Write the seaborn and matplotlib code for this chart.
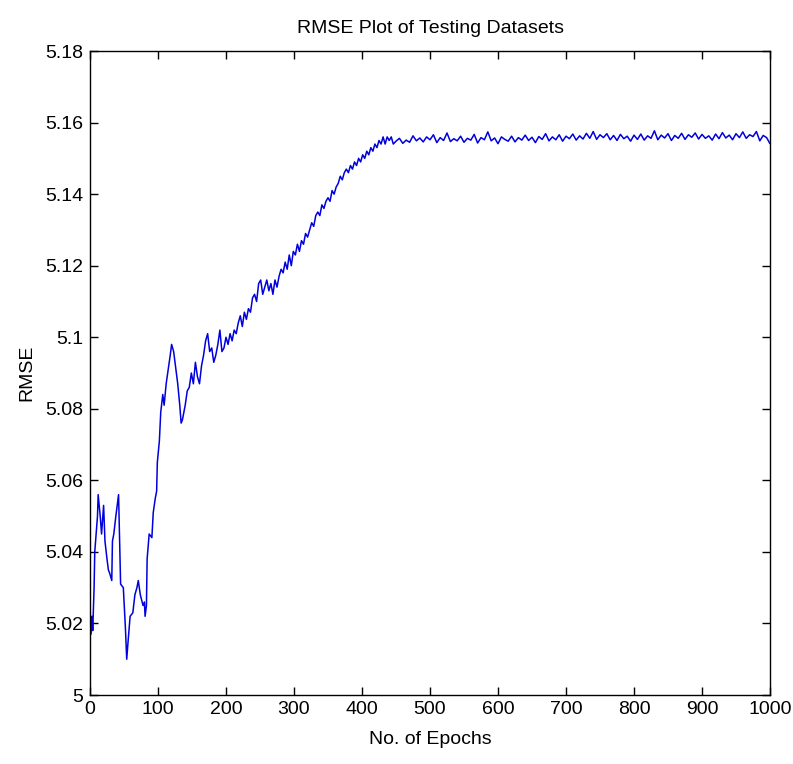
import matplotlib
matplotlib.use('Agg')
import matplotlib.pyplot as plt
from matplotlib.ticker import FuncFormatter
import seaborn as sns
import pandas as pd

# значения
epochs_start = [0, 1.5, 3, 4, 6, 7, 9, 11, 12, 15, 17, 20, 22, 25, 27, 29, 32, 33, 35, 38,
                42, 43, 45, 49, 52, 54, 56, 59, 63, 66, 69, 71, 74, 78, 80, 81, 83, 84, 87, 91,
                93, 96, 98, 99, 102, 104, 107, 109, 112, 115, 118, 120, 123, 125, 129, 132, 134, 136, 140, 143]
rmse_start = [5.025, 5.017, 5.022, 5.018, 5.030, 5.040, 5.045, 5.050, 5.056, 5.050, 5.045, 5.053, 5.043, 5.038,
              5.035, 5.034, 5.032, 5.043, 5.045, 5.050, 5.056, 5.048, 5.031, 5.030, 5.019, 5.010, 5.015, 5.022,
              5.023, 5.028, 5.030, 5.032, 5.028, 5.025, 5.026, 5.022, 5.025, 5.038, 5.045, 5.044, 5.051, 5.055,
              5.057, 5.065, 5.071, 5.079, 5.084, 5.081, 5.087, 5.091, 5.095, 5.098, 5.096, 5.093, 5.087, 5.081,
              5.076, 5.077, 5.081, 5.085]

epochs_rise = list(range(146, 449, 3))
rmse_rise = [5.086, 5.090, 5.087, 5.093, 5.089, 5.087, 5.092, 5.095, 5.099, 5.101,
             5.096, 5.097, 5.093, 5.095, 5.098, 5.102, 5.096, 5.097, 5.100, 5.098,
             5.101, 5.099, 5.102, 5.101, 5.104, 5.106, 5.103, 5.107, 5.105, 5.108,
             5.107, 5.111, 5.112, 5.110, 5.115, 5.116, 5.112, 5.114, 5.116, 5.113,
             5.115, 5.112, 5.116, 5.114, 5.117, 5.119, 5.118, 5.121, 5.119, 5.123,
             5.120, 5.124, 5.123, 5.126, 5.124, 5.127, 5.126, 5.129, 5.128, 5.130,
             5.132, 5.131, 5.134, 5.135, 5.134, 5.137, 5.136, 5.138, 5.139, 5.138,
             5.141, 5.140, 5.142, 5.143, 5.145, 5.144, 5.146, 5.147, 5.146, 5.148,
             5.147, 5.149, 5.148, 5.150, 5.149, 5.151, 5.150, 5.152, 5.151, 5.153,
             5.152, 5.154, 5.153, 5.155, 5.154, 5.156, 5.154, 5.156, 5.155, 5.156,
             5.154]

epochs_flat = list(range(450, 1001, 5))
rmse_flat = [5.1548, 5.1556, 5.1542, 5.1551, 5.1545, 5.1563, 5.1549, 5.1557, 5.1546, 5.1560,
             5.1552, 5.1566, 5.1544, 5.1558, 5.1550, 5.1571, 5.1547, 5.1555, 5.1549, 5.1562,
             5.1545, 5.1556, 5.1551, 5.1567, 5.1543, 5.1558, 5.1552, 5.1574, 5.1549, 5.1557,
             5.1541, 5.1560, 5.1553, 5.1548, 5.1562, 5.1546, 5.1558, 5.1551, 5.1565, 5.1550,
             5.1559, 5.1544, 5.1561, 5.1553, 5.1569, 5.1549, 5.1560, 5.1552, 5.1566, 5.1548,
             5.1562, 5.1555, 5.1568, 5.1551, 5.1563, 5.1554, 5.1570, 5.1556, 5.1575, 5.1553,
             5.1566, 5.1558, 5.1569, 5.1552, 5.1564, 5.1550, 5.1567, 5.1555, 5.1562, 5.1548,
             5.1565, 5.1553, 5.1568, 5.1551, 5.1563, 5.1556, 5.1577, 5.1552, 5.1565, 5.1557,
             5.1569, 5.1550, 5.1564, 5.1556, 5.1570, 5.1553, 5.1566, 5.1559, 5.1571, 5.1554,
             5.1567, 5.1556, 5.1563, 5.1551, 5.1568, 5.1555, 5.1572, 5.1557, 5.1565, 5.1552,
             5.1569, 5.1558, 5.1574, 5.1556, 5.1566, 5.1561, 5.1575, 5.1549, 5.1564, 5.1558,
             5.1541]

x_ticks = list(range(0, 1001, 100))
y_ticks = [5.0, 5.02, 5.04, 5.06, 5.08, 5.1, 5.12, 5.14, 5.16, 5.18]

df = pd.DataFrame({
    'epoch': epochs_start + epochs_rise + epochs_flat,
    'rmse': rmse_start + rmse_rise + rmse_flat,
})

sns.set_style('white')
plt.rcParams['font.family'] = ['Liberation Sans', 'DejaVu Sans']
plt.rcParams['text.color'] = 'black'
plt.rcParams['axes.labelcolor'] = 'black'

fig = plt.figure(figsize=(7.93, 7.64), dpi=100)
ax = fig.add_axes([0.1135, 0.0903, 0.8575, 0.8429])

sns.lineplot(data=df, x='epoch', y='rmse', color='#0000dd', linewidth=1.1, ax=ax,
             sort=False, estimator=None)

ax.set_xlim(0, 1000)
ax.set_ylim(5.0, 5.18)
ax.set_xticks(x_ticks)
ax.set_yticks(y_ticks)
ax.yaxis.set_major_formatter(FuncFormatter(lambda v, p: '%g' % round(v, 2)))
ax.tick_params(direction='in', length=6, width=1, colors='black', labelsize=14,
               top=True, right=True, bottom=True, left=True)
ax.tick_params(axis='x', pad=4.5)
ax.tick_params(axis='y', pad=5)
for s in ax.spines.values():
    s.set_color('black')
    s.set_linewidth(1.0)

ax.set_title('RMSE Plot of Testing Datasets', fontsize=14, pad=13)
ax.set_xlabel('No. of Epochs', fontsize=14, labelpad=9)
ax.set_ylabel('RMSE', fontsize=14, labelpad=7)

fig.savefig('out.png', dpi=100)
